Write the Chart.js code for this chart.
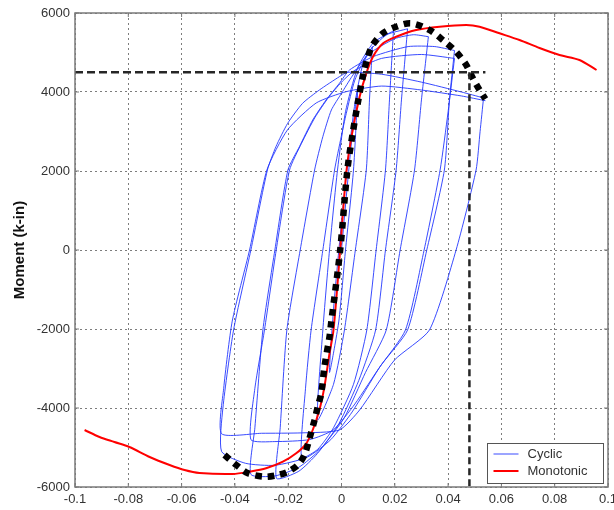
<!DOCTYPE html>
<html><head><meta charset="utf-8">
<script src="https://cdn.jsdelivr.net/npm/chart.js@4.4.1/dist/chart.umd.min.js"></script>
<style>html,body{margin:0;padding:0;background:#fff}#wrap{width:614px;height:510px}</style>
</head><body><div id="wrap"><canvas id="c" width="614" height="510"></canvas></div>
<script>
const xTicks = [-0.1,-0.08,-0.06,-0.04,-0.02,0,0.02,0.04,0.06,0.08,0.1];
const yTicks = [-6000,-4000,-2000,0,2000,4000,6000];
const yTitle = 'Moment (k-in)';
const legendLabels = ['Cyclic','Monotonic'];

const monotonic = [[-0.0964,-4557],[-0.0908,-4734],[-0.0852,-4861],[-0.0796,-4987],[-0.072,-5240],[-0.0645,-5443],[-0.0589,-5570],[-0.0533,-5645],[-0.0408,-5671],[-0.0345,-5613],[-0.0283,-5527],[-0.022,-5359],[-0.017,-5147],[-0.0132,-4894],[-0.0108,-4557],[-0.0083,-4051],[-0.0064,-3460],[-0.0045,-2616],[-0.003,-2025],[-0.0005,0],[0.0019,2025],[0.0042,3038],[0.0068,3881],[0.0093,4473],[0.0118,4894],[0.0156,5233],[0.0205,5400],[0.028,5570],[0.0368,5653],[0.0468,5696],[0.0518,5653],[0.0593,5486],[0.0668,5316],[0.0743,5114],[0.0818,4937],[0.0893,4810],[0.0957,4557]];

const envelope = [[-0.0439,-5190],[-0.0395,-5443],[-0.0351,-5653],[-0.0289,-5739],[-0.0239,-5696],[-0.0201,-5613],[-0.0164,-5443],[-0.0139,-5190],[-0.012,-4767],[-0.0101,-4304],[-0.0089,-3967],[-0.0076,-3628],[-0.0064,-2954],[-0.0045,-2195],[-0.0039,-1856],[-0.0005,0],[0.0022,2025],[0.0042,2954],[0.0061,3714],[0.008,4387],[0.0099,4894],[0.0117,5190],[0.0155,5486],[0.0205,5653],[0.0261,5739],[0.033,5570],[0.038,5316],[0.043,5020],[0.0468,4684],[0.0493,4347],[0.0518,4051],[0.054,3823]];

const refH = [[-0.1,4500],[0.054,4500]];
const refV = [[0.048,4500],[0.048,-6000]];

const cyc1 = [[0,0],[0.002,1500],[0.004,2900],[0.006,4000],[0.0045,2025],[0.0015,0],[-0.001,-1800],[-0.0045,-3100],[-0.003,-1500],[-0.001,0],[0.002,2025],[0.005,3700],[0.008,4700],[0.0116,5150]];
const cyc2 = [[0.0116,5150],[0.0105,3800],[0.0093,2025],[0.0052,0],[0.0011,-2025],[-0.003,-3400],[-0.009,-4300],[-0.007,-2025],[-0.0045,0],[-0.0015,2025],[0.0015,3500],[0.006,4600],[0.012,5250],[0.0195,5550]];
const cyc3 = [[0.0195,5550],[0.018,3800],[0.0165,2025],[0.013,0],[0.0095,-2025],[0.0045,-3400],[-0.003,-4500],[-0.009,-5050],[-0.015,-5250],[-0.0135,-3500],[-0.0114,-2025],[-0.007,0],[-0.0026,2025],[-0.0001,2870],[0.0018,3460],[0.005,4300],[0.01,5000],[0.017,5450],[0.0248,5600]];
const cyc4 = [[0.0248,5600],[0.0225,3800],[0.0205,2025],[0.0165,0],[0.0128,-2025],[0.0065,-3300],[-0.001,-4400],[-0.009,-5150],[-0.016,-5600],[-0.0244,-5780],[-0.023,-4500],[-0.0205,-2025],[-0.0155,0],[-0.0101,2025],[-0.007,2870],[-0.0038,3545],[0,3967],[0.004,4400],[0.01,4950],[0.02,5350],[0.027,5450],[0.0326,5400]];
const cyc5 = [[0.0326,5400],[0.03,3800],[0.0274,2025],[0.022,0],[0.0168,-2025],[0.009,-3100],[0.001,-4250],[-0.008,-5050],[-0.016,-5500],[-0.025,-5720],[-0.034,-5680],[-0.0325,-4500],[-0.0295,-2025],[-0.025,0],[-0.0201,2025],[-0.0158,2616],[-0.0108,3291],[-0.0058,3797],[-0.0008,4219],[0.003,4557],[0.012,4900],[0.025,5150],[0.035,5150],[0.0424,5050]];
const cyc6 = [[0.0424,5050],[0.0405,3800],[0.0386,2025],[0.032,0],[0.0248,-2025],[0.015,-2900],[0.005,-3900],[-0.003,-4550],[-0.012,-4800],[-0.025,-4850],[-0.034,-4800],[-0.0325,-3500],[-0.0289,-2025],[-0.0245,0],[-0.0195,2025],[-0.015,2700],[-0.01,3350],[-0.005,3850],[0,4250],[0.005,4550],[0.015,4850],[0.03,4950],[0.0424,4850]];
const cyc7 = [[0.0424,4850],[0.04,3500],[0.037,2025],[0.031,0],[0.024,-2025],[0.014,-3000],[0.004,-4100],[-0.004,-4800],[-0.013,-5250],[-0.025,-5450],[-0.036,-5400],[-0.045,-5100],[-0.0445,-4000],[-0.0405,-2025],[-0.034,0],[-0.0278,2025],[-0.0246,2616],[-0.0202,3207],[-0.0146,3713],[-0.0083,4051],[-0.0008,4387],[0.0024,4500],[0.015,4450],[0.03,4250],[0.045,4000],[0.0533,3850]];
const cyc8 = [[0.0533,3850],[0.052,3000],[0.0505,2025],[0.043,0],[0.033,-2025],[0.0199,-2785],[0.0068,-4051],[-0.0008,-4557],[-0.015,-4630],[-0.03,-4640],[-0.045,-4650],[-0.0442,-3500],[-0.041,-1800],[-0.0345,0],[-0.028,2025],[-0.0203,3038],[-0.0095,3722],[0.0018,4009],[0.015,4150],[0.03,4050],[0.045,3900],[0.054,3780]];
const cycles = [cyc1,cyc2,cyc3,cyc4,cyc5,cyc6,cyc7,cyc8];

const toXY = arr => arr.map(p => ({x:p[0], y:p[1]}));
const BLUE = 'rgba(35,55,255,0.9)', RED = '#ff0000';

const datasets = [];
datasets.push({label:'ref', data:toXY(refH), showLine:true, borderColor:'#262626', borderWidth:2.5, borderDash:[8,4], pointRadius:0, order:0, tension:0});
datasets.push({label:'ref', data:toXY(refV), showLine:true, borderColor:'#262626', borderWidth:2.5, borderDash:[7,4], pointRadius:0, order:0, tension:0});
datasets.push({label:'envelope', data:toXY(envelope), showLine:true, borderColor:'#000', borderWidth:6.5, borderDash:[6.5,6], borderCapStyle:'butt', pointRadius:0, order:1, tension:0.3});
datasets.push({label:'Monotonic', data:toXY(monotonic), showLine:true, borderColor:RED, borderWidth:2, pointRadius:0, order:2, tension:0.3});
cycles.forEach(c => datasets.push({label:'Cyclic', data:toXY(c), showLine:true, borderColor:BLUE, borderWidth:1, pointRadius:0, order:3, tension:0.2}));

const fmtX = v => String(Math.round(v*100)/100);

const framePlugin = {
  id:'frame',
  afterDraw(chart){
    const {ctx, chartArea:a, scales:{x,y}} = chart;
    ctx.save();
    ctx.strokeStyle = '#7a7a7a'; ctx.lineWidth = 1.5;
    ctx.strokeRect(a.left, a.top, a.right-a.left, a.bottom-a.top);
    ctx.lineWidth = 1; ctx.beginPath();
    xTicks.forEach(v => {const px = x.getPixelForValue(v); ctx.moveTo(px,a.bottom); ctx.lineTo(px,a.bottom-4); ctx.moveTo(px,a.top); ctx.lineTo(px,a.top+4);});
    yTicks.forEach(v => {const py = y.getPixelForValue(v); ctx.moveTo(a.left,py); ctx.lineTo(a.left+4,py); ctx.moveTo(a.right,py); ctx.lineTo(a.right-4,py);});
    ctx.stroke();
    // legend box
    const bw = 116, bh = 40;
    const bx = Math.round(a.right - 121) + 0.5, by = Math.round(a.bottom - 44) + 0.5;
    ctx.fillStyle = '#fff'; ctx.fillRect(bx, by, bw, bh);
    ctx.strokeStyle = '#555'; ctx.lineWidth = 1; ctx.strokeRect(bx, by, bw, bh);
    const colors = legendLabels.map(l => chart.data.datasets.find(d => d.label === l).borderColor);
    const widths = [1, 2];
    ctx.font = '13px "Liberation Sans", Arial, sans-serif';
    ctx.textBaseline = 'middle'; ctx.textAlign = 'left';
    legendLabels.forEach((l,i) => {
      const ly = by + 10.5 + i*17;
      ctx.strokeStyle = colors[i]; ctx.lineWidth = widths[i];
      ctx.beginPath(); ctx.moveTo(bx+6, ly); ctx.lineTo(bx+31, ly); ctx.stroke();
      ctx.fillStyle = '#333'; ctx.fillText(l, bx+40, ly+0.5);
    });
    ctx.restore();
  }
};

new Chart(document.getElementById('c'), {
  type:'scatter',
  data:{datasets},
  options:{
    responsive:false, animation:false, devicePixelRatio:1,
    layout:{padding:{left:0,right:6,top:13,bottom:0}},
    plugins:{legend:{display:false}, tooltip:{enabled:false}},
    elements:{point:{radius:0}},
    scales:{
      x:{type:'linear', min:-0.1, max:0.1,
        afterBuildTicks: s => { s.ticks = xTicks.map(v => ({value:v})); },
        afterFit: s => { s.height = 23; s.paddingLeft = 0; s.paddingRight = 0; },
        ticks:{callback: v => fmtX(v), font:{family:'"Liberation Sans", Arial, sans-serif', size:13}, color:'#333', padding:5, maxRotation:0, autoSkip:false},
        grid:{color:'#7d7d7d', lineWidth:1, drawTicks:false},
        border:{display:false, dash:[2,3]}
      },
      y:{type:'linear', min:-6000, max:6000,
        afterBuildTicks: s => { s.ticks = yTicks.map(v => ({value:v})); },
        afterFit: s => { s.width = 75; s.paddingTop = 0; s.paddingBottom = 0; },
        ticks:{callback: v => String(v), font:{family:'"Liberation Sans", Arial, sans-serif', size:13}, color:'#333', padding:5, autoSkip:false},
        grid:{color:'#7d7d7d', lineWidth:1, drawTicks:false},
        border:{display:false, dash:[2,3]},
        title:{display:true, text:yTitle, color:'#111', font:{family:'"Liberation Sans", Arial, sans-serif', size:15, weight:'bold'}, padding:{top:11,bottom:0}}
      }
    }
  },
  plugins:[framePlugin]
});
</script></body></html>
